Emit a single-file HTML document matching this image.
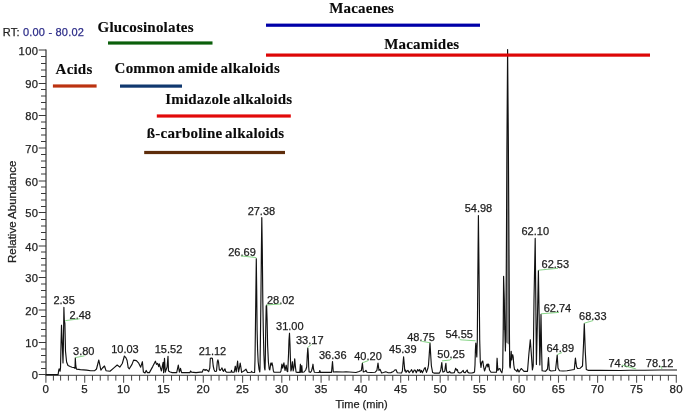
<!DOCTYPE html><html><head><meta charset="utf-8"><style>html,body{margin:0;padding:0;background:#fff;width:685px;height:413px;overflow:hidden}svg{position:absolute;left:0;top:0;display:block;will-change:transform}.s{font-family:"Liberation Sans",sans-serif}.b{font-family:"Liberation Serif",serif;font-weight:bold}.t{stroke:#222;stroke-width:0.25px}</style></head><body>
<svg width="685" height="413" viewBox="0 0 685 413">
<line x1="46.0" y1="49.5" x2="46.0" y2="375.5" stroke="#666" stroke-width="1.6"/>
<line x1="38.7" y1="374.50" x2="46.0" y2="374.50" stroke="#3a3a3a" stroke-width="1"/>
<line x1="41" y1="368.50" x2="46.0" y2="368.50" stroke="#3a3a3a" stroke-width="1"/>
<line x1="41" y1="362.00" x2="46.0" y2="362.00" stroke="#3a3a3a" stroke-width="1"/>
<line x1="41" y1="355.50" x2="46.0" y2="355.50" stroke="#3a3a3a" stroke-width="1"/>
<line x1="41" y1="349.00" x2="46.0" y2="349.00" stroke="#3a3a3a" stroke-width="1"/>
<line x1="38.7" y1="342.50" x2="46.0" y2="342.50" stroke="#3a3a3a" stroke-width="1"/>
<line x1="41" y1="336.00" x2="46.0" y2="336.00" stroke="#3a3a3a" stroke-width="1"/>
<line x1="41" y1="329.50" x2="46.0" y2="329.50" stroke="#3a3a3a" stroke-width="1"/>
<line x1="41" y1="323.00" x2="46.0" y2="323.00" stroke="#3a3a3a" stroke-width="1"/>
<line x1="41" y1="316.50" x2="46.0" y2="316.50" stroke="#3a3a3a" stroke-width="1"/>
<line x1="38.7" y1="310.00" x2="46.0" y2="310.00" stroke="#3a3a3a" stroke-width="1"/>
<line x1="41" y1="303.50" x2="46.0" y2="303.50" stroke="#3a3a3a" stroke-width="1"/>
<line x1="41" y1="297.00" x2="46.0" y2="297.00" stroke="#3a3a3a" stroke-width="1"/>
<line x1="41" y1="290.50" x2="46.0" y2="290.50" stroke="#3a3a3a" stroke-width="1"/>
<line x1="41" y1="284.00" x2="46.0" y2="284.00" stroke="#3a3a3a" stroke-width="1"/>
<line x1="38.7" y1="277.50" x2="46.0" y2="277.50" stroke="#3a3a3a" stroke-width="1"/>
<line x1="41" y1="271.00" x2="46.0" y2="271.00" stroke="#3a3a3a" stroke-width="1"/>
<line x1="41" y1="265.00" x2="46.0" y2="265.00" stroke="#3a3a3a" stroke-width="1"/>
<line x1="41" y1="258.50" x2="46.0" y2="258.50" stroke="#3a3a3a" stroke-width="1"/>
<line x1="41" y1="252.00" x2="46.0" y2="252.00" stroke="#3a3a3a" stroke-width="1"/>
<line x1="38.7" y1="246.00" x2="46.0" y2="246.00" stroke="#3a3a3a" stroke-width="1"/>
<line x1="41" y1="239.50" x2="46.0" y2="239.50" stroke="#3a3a3a" stroke-width="1"/>
<line x1="41" y1="232.50" x2="46.0" y2="232.50" stroke="#3a3a3a" stroke-width="1"/>
<line x1="41" y1="226.00" x2="46.0" y2="226.00" stroke="#3a3a3a" stroke-width="1"/>
<line x1="41" y1="219.50" x2="46.0" y2="219.50" stroke="#3a3a3a" stroke-width="1"/>
<line x1="38.7" y1="212.50" x2="46.0" y2="212.50" stroke="#3a3a3a" stroke-width="1"/>
<line x1="41" y1="206.50" x2="46.0" y2="206.50" stroke="#3a3a3a" stroke-width="1"/>
<line x1="41" y1="200.00" x2="46.0" y2="200.00" stroke="#3a3a3a" stroke-width="1"/>
<line x1="41" y1="193.50" x2="46.0" y2="193.50" stroke="#3a3a3a" stroke-width="1"/>
<line x1="41" y1="187.00" x2="46.0" y2="187.00" stroke="#3a3a3a" stroke-width="1"/>
<line x1="38.7" y1="181.00" x2="46.0" y2="181.00" stroke="#3a3a3a" stroke-width="1"/>
<line x1="41" y1="174.00" x2="46.0" y2="174.00" stroke="#3a3a3a" stroke-width="1"/>
<line x1="41" y1="167.50" x2="46.0" y2="167.50" stroke="#3a3a3a" stroke-width="1"/>
<line x1="41" y1="161.00" x2="46.0" y2="161.00" stroke="#3a3a3a" stroke-width="1"/>
<line x1="41" y1="154.50" x2="46.0" y2="154.50" stroke="#3a3a3a" stroke-width="1"/>
<line x1="38.7" y1="148.00" x2="46.0" y2="148.00" stroke="#3a3a3a" stroke-width="1"/>
<line x1="41" y1="141.50" x2="46.0" y2="141.50" stroke="#3a3a3a" stroke-width="1"/>
<line x1="41" y1="135.00" x2="46.0" y2="135.00" stroke="#3a3a3a" stroke-width="1"/>
<line x1="41" y1="128.50" x2="46.0" y2="128.50" stroke="#3a3a3a" stroke-width="1"/>
<line x1="41" y1="122.00" x2="46.0" y2="122.00" stroke="#3a3a3a" stroke-width="1"/>
<line x1="38.7" y1="115.50" x2="46.0" y2="115.50" stroke="#3a3a3a" stroke-width="1"/>
<line x1="41" y1="109.00" x2="46.0" y2="109.00" stroke="#3a3a3a" stroke-width="1"/>
<line x1="41" y1="102.50" x2="46.0" y2="102.50" stroke="#3a3a3a" stroke-width="1"/>
<line x1="41" y1="96.00" x2="46.0" y2="96.00" stroke="#3a3a3a" stroke-width="1"/>
<line x1="41" y1="89.50" x2="46.0" y2="89.50" stroke="#3a3a3a" stroke-width="1"/>
<line x1="38.7" y1="83.50" x2="46.0" y2="83.50" stroke="#3a3a3a" stroke-width="1"/>
<line x1="41" y1="76.50" x2="46.0" y2="76.50" stroke="#3a3a3a" stroke-width="1"/>
<line x1="41" y1="70.00" x2="46.0" y2="70.00" stroke="#3a3a3a" stroke-width="1"/>
<line x1="41" y1="63.50" x2="46.0" y2="63.50" stroke="#3a3a3a" stroke-width="1"/>
<line x1="41" y1="56.50" x2="46.0" y2="56.50" stroke="#3a3a3a" stroke-width="1"/>
<line x1="38.7" y1="50.00" x2="46.0" y2="50.00" stroke="#3a3a3a" stroke-width="1"/>
<text class="s t" x="38.3" y="379.40" font-size="11.2" letter-spacing="0.35" text-anchor="end" fill="#222">0</text>
<text class="s t" x="38.3" y="347.30" font-size="11.2" letter-spacing="0.35" text-anchor="end" fill="#222">10</text>
<text class="s t" x="38.3" y="314.50" font-size="11.2" letter-spacing="0.35" text-anchor="end" fill="#222">20</text>
<text class="s t" x="38.3" y="282.20" font-size="11.2" letter-spacing="0.35" text-anchor="end" fill="#222">30</text>
<text class="s t" x="38.3" y="250.60" font-size="11.2" letter-spacing="0.35" text-anchor="end" fill="#222">40</text>
<text class="s t" x="38.3" y="217.40" font-size="11.2" letter-spacing="0.35" text-anchor="end" fill="#222">50</text>
<text class="s t" x="38.3" y="185.50" font-size="11.2" letter-spacing="0.35" text-anchor="end" fill="#222">60</text>
<text class="s t" x="38.3" y="152.50" font-size="11.2" letter-spacing="0.35" text-anchor="end" fill="#222">70</text>
<text class="s t" x="38.3" y="120.10" font-size="11.2" letter-spacing="0.35" text-anchor="end" fill="#222">80</text>
<text class="s t" x="38.3" y="88.00" font-size="11.2" letter-spacing="0.35" text-anchor="end" fill="#222">90</text>
<text class="s t" x="38.3" y="54.70" font-size="11.2" letter-spacing="0.35" text-anchor="end" fill="#222">100</text>
<line x1="45.2" y1="375.3" x2="676.8" y2="375.3" stroke="#3a3a3a" stroke-width="1"/>
<line x1="45.90" y1="375.0" x2="45.90" y2="382.7" stroke="#555" stroke-width="1.1"/>
<line x1="53.40" y1="375.0" x2="53.40" y2="380.6" stroke="#444" stroke-width="1"/>
<line x1="60.60" y1="375.0" x2="60.60" y2="380.6" stroke="#444" stroke-width="1"/>
<line x1="68.40" y1="375.0" x2="68.40" y2="380.6" stroke="#444" stroke-width="1"/>
<line x1="76.40" y1="375.0" x2="76.40" y2="380.6" stroke="#444" stroke-width="1"/>
<line x1="84.70" y1="375.0" x2="84.70" y2="382.7" stroke="#555" stroke-width="1.1"/>
<line x1="92.48" y1="375.0" x2="92.48" y2="380.6" stroke="#444" stroke-width="1"/>
<line x1="100.26" y1="375.0" x2="100.26" y2="380.6" stroke="#444" stroke-width="1"/>
<line x1="108.04" y1="375.0" x2="108.04" y2="380.6" stroke="#444" stroke-width="1"/>
<line x1="115.82" y1="375.0" x2="115.82" y2="380.6" stroke="#444" stroke-width="1"/>
<line x1="123.60" y1="375.0" x2="123.60" y2="382.7" stroke="#555" stroke-width="1.1"/>
<line x1="131.60" y1="375.0" x2="131.60" y2="380.6" stroke="#444" stroke-width="1"/>
<line x1="139.60" y1="375.0" x2="139.60" y2="380.6" stroke="#444" stroke-width="1"/>
<line x1="147.60" y1="375.0" x2="147.60" y2="380.6" stroke="#444" stroke-width="1"/>
<line x1="155.60" y1="375.0" x2="155.60" y2="380.6" stroke="#444" stroke-width="1"/>
<line x1="163.60" y1="375.0" x2="163.60" y2="382.7" stroke="#555" stroke-width="1.1"/>
<line x1="171.54" y1="375.0" x2="171.54" y2="380.6" stroke="#444" stroke-width="1"/>
<line x1="179.48" y1="375.0" x2="179.48" y2="380.6" stroke="#444" stroke-width="1"/>
<line x1="187.42" y1="375.0" x2="187.42" y2="380.6" stroke="#444" stroke-width="1"/>
<line x1="195.36" y1="375.0" x2="195.36" y2="380.6" stroke="#444" stroke-width="1"/>
<line x1="203.30" y1="375.0" x2="203.30" y2="382.7" stroke="#555" stroke-width="1.1"/>
<line x1="211.16" y1="375.0" x2="211.16" y2="380.6" stroke="#444" stroke-width="1"/>
<line x1="219.02" y1="375.0" x2="219.02" y2="380.6" stroke="#444" stroke-width="1"/>
<line x1="226.88" y1="375.0" x2="226.88" y2="380.6" stroke="#444" stroke-width="1"/>
<line x1="234.74" y1="375.0" x2="234.74" y2="380.6" stroke="#444" stroke-width="1"/>
<line x1="242.60" y1="375.0" x2="242.60" y2="382.7" stroke="#555" stroke-width="1.1"/>
<line x1="250.44" y1="375.0" x2="250.44" y2="380.6" stroke="#444" stroke-width="1"/>
<line x1="258.28" y1="375.0" x2="258.28" y2="380.6" stroke="#444" stroke-width="1"/>
<line x1="266.12" y1="375.0" x2="266.12" y2="380.6" stroke="#444" stroke-width="1"/>
<line x1="273.96" y1="375.0" x2="273.96" y2="380.6" stroke="#444" stroke-width="1"/>
<line x1="281.80" y1="375.0" x2="281.80" y2="382.7" stroke="#555" stroke-width="1.1"/>
<line x1="289.66" y1="375.0" x2="289.66" y2="380.6" stroke="#444" stroke-width="1"/>
<line x1="297.52" y1="375.0" x2="297.52" y2="380.6" stroke="#444" stroke-width="1"/>
<line x1="305.38" y1="375.0" x2="305.38" y2="380.6" stroke="#444" stroke-width="1"/>
<line x1="313.24" y1="375.0" x2="313.24" y2="380.6" stroke="#444" stroke-width="1"/>
<line x1="321.10" y1="375.0" x2="321.10" y2="382.7" stroke="#555" stroke-width="1.1"/>
<line x1="329.08" y1="375.0" x2="329.08" y2="380.6" stroke="#444" stroke-width="1"/>
<line x1="337.06" y1="375.0" x2="337.06" y2="380.6" stroke="#444" stroke-width="1"/>
<line x1="345.04" y1="375.0" x2="345.04" y2="380.6" stroke="#444" stroke-width="1"/>
<line x1="353.02" y1="375.0" x2="353.02" y2="380.6" stroke="#444" stroke-width="1"/>
<line x1="361.00" y1="375.0" x2="361.00" y2="382.7" stroke="#555" stroke-width="1.1"/>
<line x1="368.94" y1="375.0" x2="368.94" y2="380.6" stroke="#444" stroke-width="1"/>
<line x1="376.88" y1="375.0" x2="376.88" y2="380.6" stroke="#444" stroke-width="1"/>
<line x1="384.82" y1="375.0" x2="384.82" y2="380.6" stroke="#444" stroke-width="1"/>
<line x1="392.76" y1="375.0" x2="392.76" y2="380.6" stroke="#444" stroke-width="1"/>
<line x1="400.70" y1="375.0" x2="400.70" y2="382.7" stroke="#555" stroke-width="1.1"/>
<line x1="408.60" y1="375.0" x2="408.60" y2="380.6" stroke="#444" stroke-width="1"/>
<line x1="416.50" y1="375.0" x2="416.50" y2="380.6" stroke="#444" stroke-width="1"/>
<line x1="424.40" y1="375.0" x2="424.40" y2="380.6" stroke="#444" stroke-width="1"/>
<line x1="432.30" y1="375.0" x2="432.30" y2="380.6" stroke="#444" stroke-width="1"/>
<line x1="440.20" y1="375.0" x2="440.20" y2="382.7" stroke="#555" stroke-width="1.1"/>
<line x1="448.08" y1="375.0" x2="448.08" y2="380.6" stroke="#444" stroke-width="1"/>
<line x1="455.96" y1="375.0" x2="455.96" y2="380.6" stroke="#444" stroke-width="1"/>
<line x1="463.84" y1="375.0" x2="463.84" y2="380.6" stroke="#444" stroke-width="1"/>
<line x1="471.72" y1="375.0" x2="471.72" y2="380.6" stroke="#444" stroke-width="1"/>
<line x1="479.60" y1="375.0" x2="479.60" y2="382.7" stroke="#555" stroke-width="1.1"/>
<line x1="487.50" y1="375.0" x2="487.50" y2="380.6" stroke="#444" stroke-width="1"/>
<line x1="495.40" y1="375.0" x2="495.40" y2="380.6" stroke="#444" stroke-width="1"/>
<line x1="503.30" y1="375.0" x2="503.30" y2="380.6" stroke="#444" stroke-width="1"/>
<line x1="511.20" y1="375.0" x2="511.20" y2="380.6" stroke="#444" stroke-width="1"/>
<line x1="519.10" y1="375.0" x2="519.10" y2="382.7" stroke="#555" stroke-width="1.1"/>
<line x1="526.98" y1="375.0" x2="526.98" y2="380.6" stroke="#444" stroke-width="1"/>
<line x1="534.86" y1="375.0" x2="534.86" y2="380.6" stroke="#444" stroke-width="1"/>
<line x1="542.74" y1="375.0" x2="542.74" y2="380.6" stroke="#444" stroke-width="1"/>
<line x1="550.62" y1="375.0" x2="550.62" y2="380.6" stroke="#444" stroke-width="1"/>
<line x1="558.50" y1="375.0" x2="558.50" y2="382.7" stroke="#555" stroke-width="1.1"/>
<line x1="566.32" y1="375.0" x2="566.32" y2="380.6" stroke="#444" stroke-width="1"/>
<line x1="574.14" y1="375.0" x2="574.14" y2="380.6" stroke="#444" stroke-width="1"/>
<line x1="581.96" y1="375.0" x2="581.96" y2="380.6" stroke="#444" stroke-width="1"/>
<line x1="589.78" y1="375.0" x2="589.78" y2="380.6" stroke="#444" stroke-width="1"/>
<line x1="597.60" y1="375.0" x2="597.60" y2="382.7" stroke="#555" stroke-width="1.1"/>
<line x1="605.40" y1="375.0" x2="605.40" y2="380.6" stroke="#444" stroke-width="1"/>
<line x1="613.20" y1="375.0" x2="613.20" y2="380.6" stroke="#444" stroke-width="1"/>
<line x1="621.00" y1="375.0" x2="621.00" y2="380.6" stroke="#444" stroke-width="1"/>
<line x1="628.80" y1="375.0" x2="628.80" y2="380.6" stroke="#444" stroke-width="1"/>
<line x1="636.60" y1="375.0" x2="636.60" y2="382.7" stroke="#555" stroke-width="1.1"/>
<line x1="644.54" y1="375.0" x2="644.54" y2="380.6" stroke="#444" stroke-width="1"/>
<line x1="652.48" y1="375.0" x2="652.48" y2="380.6" stroke="#444" stroke-width="1"/>
<line x1="660.42" y1="375.0" x2="660.42" y2="380.6" stroke="#444" stroke-width="1"/>
<line x1="668.36" y1="375.0" x2="668.36" y2="380.6" stroke="#444" stroke-width="1"/>
<line x1="676.30" y1="375.0" x2="676.30" y2="382.7" stroke="#555" stroke-width="1.1"/>
<text class="s t" x="45.90" y="393.0" font-size="11.5" letter-spacing="0.3" text-anchor="middle" fill="#222">0</text>
<text class="s t" x="84.70" y="393.0" font-size="11.5" letter-spacing="0.3" text-anchor="middle" fill="#222">5</text>
<text class="s t" x="123.60" y="393.0" font-size="11.5" letter-spacing="0.3" text-anchor="middle" fill="#222">10</text>
<text class="s t" x="163.60" y="393.0" font-size="11.5" letter-spacing="0.3" text-anchor="middle" fill="#222">15</text>
<text class="s t" x="203.30" y="393.0" font-size="11.5" letter-spacing="0.3" text-anchor="middle" fill="#222">20</text>
<text class="s t" x="242.60" y="393.0" font-size="11.5" letter-spacing="0.3" text-anchor="middle" fill="#222">25</text>
<text class="s t" x="281.80" y="393.0" font-size="11.5" letter-spacing="0.3" text-anchor="middle" fill="#222">30</text>
<text class="s t" x="321.10" y="393.0" font-size="11.5" letter-spacing="0.3" text-anchor="middle" fill="#222">35</text>
<text class="s t" x="361.00" y="393.0" font-size="11.5" letter-spacing="0.3" text-anchor="middle" fill="#222">40</text>
<text class="s t" x="400.70" y="393.0" font-size="11.5" letter-spacing="0.3" text-anchor="middle" fill="#222">45</text>
<text class="s t" x="440.20" y="393.0" font-size="11.5" letter-spacing="0.3" text-anchor="middle" fill="#222">50</text>
<text class="s t" x="479.60" y="393.0" font-size="11.5" letter-spacing="0.3" text-anchor="middle" fill="#222">55</text>
<text class="s t" x="519.10" y="393.0" font-size="11.5" letter-spacing="0.3" text-anchor="middle" fill="#222">60</text>
<text class="s t" x="558.50" y="393.0" font-size="11.5" letter-spacing="0.3" text-anchor="middle" fill="#222">65</text>
<text class="s t" x="597.60" y="393.0" font-size="11.5" letter-spacing="0.3" text-anchor="middle" fill="#222">70</text>
<text class="s t" x="636.60" y="393.0" font-size="11.5" letter-spacing="0.3" text-anchor="middle" fill="#222">75</text>
<text class="s t" x="676.30" y="393.0" font-size="11.5" letter-spacing="0.3" text-anchor="middle" fill="#222">80</text>
<text class="s t" x="335.5" y="407.8" font-size="11" fill="#222">Time (min)</text>
<text class="s t" transform="translate(15.8,263.0) rotate(-90)" x="0" y="0" font-size="11.5" fill="#222">Relative Abundance</text>
<text class="s" x="2.8" y="35.6" font-size="11" letter-spacing="0.2" fill="#222" stroke="#222" stroke-width="0.25">RT: <tspan fill="#2c2c88" stroke="#2c2c88">0.00 - 80.02</tspan></text>
<path d="M506.4,250 L506.9,150 L507.6,49.6 L508.4,150 L509.0,250 L509.4,330 L509.5,345 L505.6,342 Z" fill="#8a8a8a" stroke="none"/>
<path d="M503.2,330 L503.6,276.3 L504.3,300 L504.8,330 Z" fill="#777" stroke="none"/>
<path d="M46.0,374.6 L58.1,374.6 L58.6,371.0 L59.1,368.8 L59.7,369.5 L60.1,371.3 L60.5,368.0 L61.0,345.0 L61.5,325.2 L62.3,344.0 L63.0,363.0 L63.4,345.0 L63.9,307.4 L64.3,320.0 L64.9,323.7 L65.5,351.3 L66.6,362.0 L68.0,365.5 L70.2,366.5 L72.0,367.2 L74.3,367.6 L75.0,368.5 L75.3,357.9 L75.8,366.0 L76.5,369.1 L80.4,369.6 L86.6,370.1 L90.7,370.7 L94.7,370.7 L96.5,369.0 L98.8,360.0 L100.9,370.1 L102.5,368.0 L104.5,366.0 L106.0,370.7 L110.0,371.2 L114.2,367.6 L117.2,365.0 L119.8,367.1 L122.3,363.5 L124.4,356.0 L126.0,357.9 L127.1,360.5 L128.2,367.7 L129.3,368.8 L132.0,364.4 L133.6,360.1 L136.4,360.6 L138.5,362.8 L140.7,367.2 L142.4,361.7 L143.4,372.1 L145.0,373.0 L146.2,370.4 L147.3,372.6 L149.4,372.6 L152.7,366.6 L155.4,361.2 L156.5,364.4 L157.6,363.4 L158.7,366.6 L159.3,363.9 L160.4,367.7 L161.4,371.0 L163.1,362.3 L163.6,372.6 L164.5,358.4 L165.3,372.1 L167.1,367.0 L168.0,356.3 L168.5,371.0 L170.2,372.0 L172.3,372.6 L176.7,372.6 L178.3,365.0 L179.4,372.1 L180.5,368.3 L181.6,372.6 L190.0,372.6 L190.5,371.0 L191.5,372.1 L196.0,372.6 L200.3,372.1 L202.3,372.1 L203.0,370.0 L204.0,369.3 L205.0,370.5 L206.0,369.5 L207.2,370.3 L208.7,371.6 L209.8,368.0 L210.3,358.3 L211.3,358.1 L212.4,358.3 L213.2,366.0 L214.0,369.5 L215.0,371.5 L216.5,371.3 L217.3,362.0 L217.9,359.8 L218.5,362.0 L219.3,369.5 L220.2,370.5 L221.3,369.0 L222.0,367.9 L222.8,370.5 L223.6,371.3 L224.4,369.5 L225.0,368.9 L225.6,371.3 L226.5,372.1 L231.0,372.2 L231.5,370.3 L232.0,372.2 L234.2,372.2 L235.3,366.2 L236.2,372.0 L236.8,368.0 L237.6,361.0 L238.5,371.8 L239.4,368.0 L240.2,363.0 L241.0,368.0 L241.6,372.3 L243.0,371.5 L244.5,370.5 L246.0,369.2 L246.8,371.0 L247.5,372.5 L251.0,372.3 L251.6,371.3 L252.2,372.3 L254.4,372.5 L254.6,372.4 L255.0,360.0 L255.4,330.0 L255.9,290.0 L256.3,258.7 L256.7,290.0 L257.1,330.0 L257.6,350.0 L258.2,362.0 L259.0,369.0 L259.8,372.0 L260.0,368.0 L260.4,340.0 L260.9,300.0 L261.4,250.0 L261.8,217.5 L262.3,250.0 L262.8,300.0 L263.3,330.0 L263.9,355.0 L264.5,368.0 L265.0,370.0 L265.3,360.0 L265.7,330.0 L266.2,306.0 L266.6,305.2 L267.1,320.0 L267.6,345.0 L268.4,362.0 L269.2,369.0 L269.8,370.0 L270.4,366.0 L270.8,363.0 L271.5,365.0 L272.0,362.9 L272.7,366.0 L273.4,371.0 L274.0,372.2 L280.4,372.2 L281.0,371.0 L281.9,364.0 L282.7,368.2 L283.9,362.9 L285.0,370.5 L286.2,365.2 L287.0,371.0 L287.7,371.6 L288.5,355.0 L289.0,340.0 L289.5,333.2 L290.0,345.0 L290.4,358.0 L290.9,371.0 L291.5,369.0 L292.4,361.7 L293.2,371.0 L294.0,367.0 L294.7,358.8 L295.5,367.5 L296.1,372.2 L297.5,372.4 L299.8,372.4 L300.4,364.2 L300.9,372.3 L301.3,372.2 L301.8,365.6 L302.3,372.3 L304.0,372.0 L305.7,370.0 L306.7,367.0 L307.3,355.0 L307.8,348.1 L308.3,355.0 L308.7,367.0 L309.1,371.9 L310.5,372.3 L311.5,371.0 L312.3,368.0 L313.0,364.2 L313.5,369.0 L314.4,372.3 L319.2,372.5 L319.8,370.5 L320.4,372.5 L320.5,372.3 L331.5,372.3 L332.5,361.6 L333.3,372.0 L336.0,371.8 L343.0,372.0 L346.0,371.8 L356.0,372.5 L359.0,371.5 L361.4,370.4 L362.4,363.1 L363.3,372.0 L365.0,371.5 L366.0,370.4 L367.0,372.3 L371.0,372.5 L375.0,372.3 L376.9,370.4 L378.0,363.1 L379.0,370.4 L380.1,369.4 L381.6,373.0 L383.5,372.5 L385.7,371.8 L388.3,372.7 L390.8,372.6 L393.5,371.5 L394.7,370.0 L396.0,369.7 L397.3,372.8 L401.5,373.0 L402.4,371.0 L402.8,366.0 L403.6,356.8 L404.3,365.0 L404.8,371.0 L405.4,370.0 L406.0,372.4 L406.9,371.0 L407.9,370.4 L409.2,372.7 L410.6,371.0 L411.6,369.7 L412.9,372.7 L414.3,370.0 L415.3,370.4 L416.3,372.7 L417.7,369.5 L418.7,371.0 L419.7,369.5 L420.4,372.4 L421.4,370.4 L422.4,372.7 L424.5,368.3 L425.2,367.7 L425.8,370.4 L426.5,372.4 L427.9,368.3 L428.5,365.0 L429.2,355.0 L430.0,343.0 L430.7,355.0 L431.4,366.0 L432.6,372.4 L434.0,373.1 L439.4,373.1 L440.2,371.5 L440.8,369.7 L441.3,366.0 L441.8,362.6 L442.3,368.0 L442.8,372.0 L443.5,372.0 L444.8,371.0 L445.4,366.0 L445.9,363.3 L446.4,370.0 L447.0,372.2 L448.2,372.6 L449.6,371.4 L450.3,372.6 L452.0,373.0 L454.3,372.6 L455.7,368.3 L456.7,370.3 L457.4,369.7 L458.1,372.3 L459.4,373.0 L461.1,372.6 L463.2,370.4 L463.8,372.4 L465.2,372.7 L467.2,370.0 L467.9,372.4 L469.3,373.0 L472.0,373.0 L474.0,372.4 L474.5,372.0 L475.0,365.0 L475.4,350.0 L475.8,343.1 L476.3,350.0 L476.8,357.0 L477.3,340.0 L477.8,280.0 L478.4,215.6 L479.1,280.0 L479.7,340.0 L480.3,362.0 L481.0,367.5 L481.6,363.0 L482.2,361.5 L482.8,361.1 L483.5,366.0 L484.5,371.0 L485.5,368.0 L486.5,365.0 L487.2,364.0 L487.9,367.0 L488.5,364.0 L488.8,364.5 L489.5,370.0 L491.0,372.2 L494.4,372.2 L496.5,372.2 L496.9,362.0 L497.1,358.2 L497.5,365.0 L497.9,370.5 L498.7,369.0 L499.9,368.5 L500.7,371.0 L501.9,372.8 L502.7,368.0 L503.2,330.0 L503.6,276.3 L504.3,300.0 L504.8,330.0 L505.4,351.0 L505.9,330.0 L506.4,250.0 L506.9,150.0 L507.6,49.6 L508.4,150.0 L509.0,250.0 L509.4,330.0 L509.7,366.0 L510.2,368.0 L510.7,360.0 L511.2,351.3 L511.7,360.0 L512.2,356.0 L512.7,354.7 L513.2,357.0 L513.8,365.0 L514.5,369.5 L515.3,369.9 L517.0,371.6 L517.6,369.2 L519.0,372.0 L521.2,368.5 L522.6,369.9 L524.0,371.3 L527.5,371.3 L528.9,353.7 L530.3,339.7 L531.4,355.0 L532.4,369.9 L533.2,366.0 L534.0,300.0 L535.2,238.4 L535.8,300.0 L536.4,364.4 L537.2,330.0 L538.4,270.5 L539.2,320.0 L539.8,365.0 L540.4,345.0 L541.0,314.4 L541.6,350.0 L542.1,370.8 L543.5,371.0 L545.5,371.3 L547.5,369.0 L548.5,357.5 L549.3,370.0 L551.0,371.0 L555.5,370.5 L556.4,362.0 L557.2,355.0 L558.0,368.0 L559.5,370.8 L563.0,371.0 L567.0,370.8 L574.3,369.5 L575.4,358.0 L576.5,366.5 L577.5,368.5 L580.0,368.3 L582.5,366.0 L583.5,345.0 L584.3,323.6 L585.3,352.0 L586.3,369.5 L588.0,370.3 L600.0,370.3 L620.0,370.5 L630.0,370.2 L645.0,370.3 L660.0,370.0 L677.0,370.0" fill="none" stroke="#111" stroke-width="1.15" stroke-linejoin="round"/>
<text class="s t" x="64.10" y="304.40" font-size="11" text-anchor="middle" fill="#1a1a1a">2.35</text>
<text class="s t" x="80.25" y="318.60" font-size="11" text-anchor="middle" fill="#1a1a1a">2.48</text>
<text class="s t" x="83.75" y="354.90" font-size="11" text-anchor="middle" fill="#1a1a1a">3.80</text>
<text class="s t" x="124.95" y="353.10" font-size="11" text-anchor="middle" fill="#1a1a1a">10.03</text>
<text class="s t" x="168.50" y="353.10" font-size="11" text-anchor="middle" fill="#1a1a1a">15.52</text>
<text class="s t" x="212.45" y="355.00" font-size="11" text-anchor="middle" fill="#1a1a1a">21.12</text>
<text class="s t" x="242.00" y="255.70" font-size="11" text-anchor="middle" fill="#1a1a1a">26.69</text>
<text class="s t" x="261.40" y="214.50" font-size="11" text-anchor="middle" fill="#1a1a1a">27.38</text>
<text class="s t" x="280.70" y="303.60" font-size="11" text-anchor="middle" fill="#1a1a1a">28.02</text>
<text class="s t" x="289.80" y="329.50" font-size="11" text-anchor="middle" fill="#1a1a1a">31.00</text>
<text class="s t" x="309.75" y="343.90" font-size="11" text-anchor="middle" fill="#1a1a1a">33.17</text>
<text class="s t" x="332.75" y="358.50" font-size="11" text-anchor="middle" fill="#1a1a1a">36.36</text>
<text class="s t" x="368.00" y="360.10" font-size="11" text-anchor="middle" fill="#1a1a1a">40.20</text>
<text class="s t" x="402.85" y="353.40" font-size="11" text-anchor="middle" fill="#1a1a1a">45.39</text>
<text class="s t" x="421.00" y="340.50" font-size="11" text-anchor="middle" fill="#1a1a1a">48.75</text>
<text class="s t" x="451.10" y="358.30" font-size="11" text-anchor="middle" fill="#1a1a1a">50.25</text>
<text class="s t" x="459.15" y="338.40" font-size="11" text-anchor="middle" fill="#1a1a1a">54.55</text>
<text class="s t" x="478.45" y="212.00" font-size="11" text-anchor="middle" fill="#1a1a1a">54.98</text>
<text class="s t" x="535.25" y="235.30" font-size="11" text-anchor="middle" fill="#1a1a1a">62.10</text>
<text class="s t" x="555.35" y="268.20" font-size="11" text-anchor="middle" fill="#1a1a1a">62.53</text>
<text class="s t" x="557.45" y="312.10" font-size="11" text-anchor="middle" fill="#1a1a1a">62.74</text>
<text class="s t" x="560.25" y="352.00" font-size="11" text-anchor="middle" fill="#1a1a1a">64.89</text>
<text class="s t" x="592.80" y="320.10" font-size="11" text-anchor="middle" fill="#1a1a1a">68.33</text>
<text class="s t" x="622.20" y="366.50" font-size="11" text-anchor="middle" fill="#1a1a1a">74.85</text>
<text class="s t" x="659.60" y="366.50" font-size="11" text-anchor="middle" fill="#1a1a1a">78.12</text>
<path d="M65.3,320.6 L79.8,318.8" fill="none" stroke="#7bd07b" stroke-width="0.9"/>
<path d="M75.4,357.6 L84.5,355.8" fill="none" stroke="#7bd07b" stroke-width="0.9"/>
<path d="M256.3,257.6 L240.8,255.9" fill="none" stroke="#7bd07b" stroke-width="0.9"/>
<path d="M266.3,305.0 L281.0,304.0" fill="none" stroke="#7bd07b" stroke-width="0.9"/>
<path d="M307.6,347.5 L311.5,344.5" fill="none" stroke="#7bd07b" stroke-width="0.9"/>
<path d="M362.4,362.8 L368.5,360.5" fill="none" stroke="#7bd07b" stroke-width="0.9"/>
<path d="M420.9,340.2 L422.3,341.4 L430.4,342.8" fill="none" stroke="#7bd07b" stroke-width="0.9"/>
<path d="M442.0,360.9 L450.0,360.0 L451.8,358.5" fill="none" stroke="#7bd07b" stroke-width="0.9"/>
<path d="M459.6,338.5 L460.3,339.8 L475.6,340.8" fill="none" stroke="#7bd07b" stroke-width="0.9"/>
<path d="M538.4,270.2 L558.0,268.3" fill="none" stroke="#7bd07b" stroke-width="0.9"/>
<path d="M541.0,313.8 L559.0,312.4" fill="none" stroke="#7bd07b" stroke-width="0.9"/>
<path d="M557.2,354.6 L562.0,352.6" fill="none" stroke="#7bd07b" stroke-width="0.9"/>
<path d="M584.3,323.2 L593.0,320.6" fill="none" stroke="#7bd07b" stroke-width="0.9"/>
<path d="M622.0,365.0 L636.2,369.0" fill="none" stroke="#7bd07b" stroke-width="0.9"/>
<path d="M660.6,366.0 L662.0,369.0" fill="none" stroke="#7bd07b" stroke-width="0.9"/>
<rect x="108.0" y="41.40" width="104.50" height="3.2" fill="#0b5f0b"/>
<rect x="266.0" y="23.60" width="214.00" height="3.2" fill="#0000a8"/>
<rect x="266.0" y="53.50" width="384.00" height="3.2" fill="#dd0606"/>
<rect x="52.9" y="84.40" width="43.70" height="3.2" fill="#bb3210"/>
<rect x="120.0" y="84.50" width="62.00" height="3.2" fill="#10386f"/>
<rect x="156.8" y="114.40" width="134.00" height="3.2" fill="#e20a0a"/>
<rect x="144.2" y="150.90" width="140.80" height="3.2" fill="#5e2d0b"/>
<text class="b" x="97.6" y="31.5" font-size="15" letter-spacing="0.2" word-spacing="-1.2" fill="#0a0a0a" stroke="#0a0a0a" stroke-width="0.12">Glucosinolates</text>
<text class="b" x="329.2" y="13.1" font-size="15" letter-spacing="0.2" word-spacing="-1.2" fill="#0a0a0a" stroke="#0a0a0a" stroke-width="0.12">Macaenes</text>
<text class="b" x="384.2" y="49.1" font-size="15" letter-spacing="0.2" word-spacing="-1.2" fill="#0a0a0a" stroke="#0a0a0a" stroke-width="0.12">Macamides</text>
<text class="b" x="55.6" y="73.7" font-size="15" letter-spacing="0.2" word-spacing="-1.2" fill="#0a0a0a" stroke="#0a0a0a" stroke-width="0.12">Acids</text>
<text class="b" x="114.6" y="72.7" font-size="15" letter-spacing="0.2" word-spacing="-1.2" fill="#0a0a0a" stroke="#0a0a0a" stroke-width="0.12">Common amide alkaloids</text>
<text class="b" x="165.2" y="104.2" font-size="15" letter-spacing="0.2" word-spacing="-1.2" fill="#0a0a0a" stroke="#0a0a0a" stroke-width="0.12">Imidazole alkaloids</text>
<text class="b" x="146.8" y="138.0" font-size="15" letter-spacing="0.2" word-spacing="-1.2" fill="#0a0a0a" stroke="#0a0a0a" stroke-width="0.12">ß-carboline alkaloids</text>
</svg></body></html>
